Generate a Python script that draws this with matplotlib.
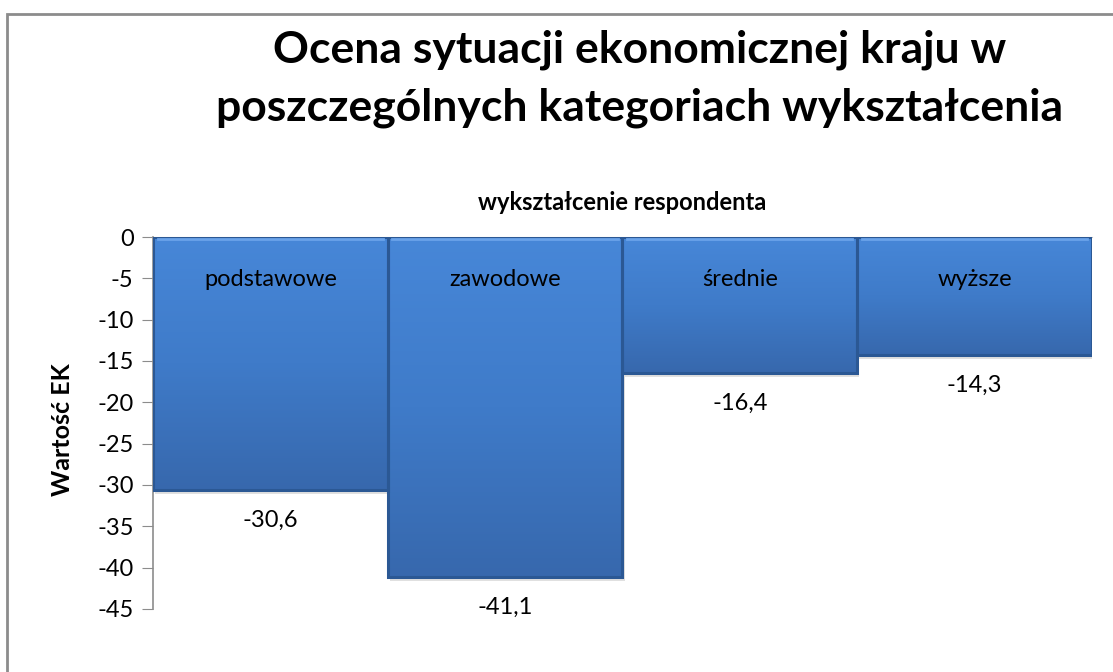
import numpy as np
import matplotlib
matplotlib.use('Agg')
from matplotlib import pyplot as plt
from matplotlib.colors import LinearSegmentedColormap

plt.rcParams['font.family'] = ['Lato', 'DejaVu Sans']

# data
categories = ['podstawowe', 'zawodowe', 'średnie', 'wyższe']
values = [-30.6, -41.1, -16.4, -14.3]
value_labels = ['-30,6', '-41,1', '-16,4', '-14,3']
yticks = np.arange(0, -50, -5)

fig = plt.figure(figsize=(11.13, 6.72), dpi=100)
ax = fig.add_axes([0.1375, 0.0938, 0.8435, 0.5535])

x = np.arange(len(categories))

# soft drop shadow under the bars
ax.bar(x + 0.01, np.array(values) - 0.5, width=1.0, color='#000000', alpha=0.12,
       linewidth=0, zorder=1.5)

bars = ax.bar(x, values, width=1.0, color='#3f7acb', linewidth=0, zorder=2)

# vertical gradient inside each bar
cmap = LinearSegmentedColormap.from_list('blu', ['#4787d8', '#3f7bc9', '#3768ad'])
grad = np.linspace(0, 1, 256).reshape(-1, 1)
for b, v in zip(bars, values):
    im = ax.imshow(grad, cmap=cmap, aspect='auto', zorder=2.5,
                   extent=[b.get_x(), b.get_x() + b.get_width(), v, 0])
    im.set_clip_path(b)
    # darker bevel frame on top of the gradient
    ax.bar(b.get_x() + b.get_width() / 2, v, width=b.get_width(), fill=False,
           edgecolor='#2b5894', linewidth=2.2, zorder=3)
    ax.plot([b.get_x() + 0.02, b.get_x() + b.get_width() - 0.02], [-0.25, -0.25],
            color='#6aa3ea', linewidth=2, zorder=3.2)

for xi, cat in zip(x, categories):
    ax.text(xi, -5.2, cat, ha='center', va='center', fontsize=17, color='black', zorder=4)
for xi, v, lab in zip(x, values, value_labels):
    ax.text(xi, v - 3.7, lab, ha='center', va='center', fontsize=17, color='black', zorder=4)

ax.set_xlim(-0.5, 3.5)
ax.set_ylim(-45, 0)
ax.set_yticks(yticks)
ax.set_yticklabels([str(t) for t in yticks], fontsize=17)
ax.set_xticks([])
ax.tick_params(axis='y', direction='out', length=8, color='#8c8c8c', pad=6)
for s in ['right', 'bottom']:
    ax.spines[s].set_visible(False)
ax.spines['left'].set_color('#8c8c8c')
ax.spines['top'].set_color('#bdbdbd')
ax.spines['left'].set_linewidth(1.2)

fig.text(0.0566, 0.36, 'Wartość EK', rotation=90, ha='center', va='center',
         fontsize=18, fontweight='bold')
fig.text(0.559, 0.698, 'wykształcenie respondenta', ha='center', va='center',
         fontsize=17, fontweight='bold')

fig.text(0.575, 0.9256, 'Ocena sytuacji ekonomicznej kraju w', ha='center', va='center',
         fontsize=32, fontweight='bold')
fig.text(0.575, 0.839, 'poszczególnych kategoriach wykształcenia', ha='center', va='center',
         fontsize=32, fontweight='bold')

# chart frame
fig.patches.append(plt.Rectangle((0.006, -0.01), 1.1, 0.9995 - 0.01, transform=fig.transFigure,
                                 fill=False, edgecolor='#8c8c8c', linewidth=2))

fig.savefig('out.png', dpi=100)
